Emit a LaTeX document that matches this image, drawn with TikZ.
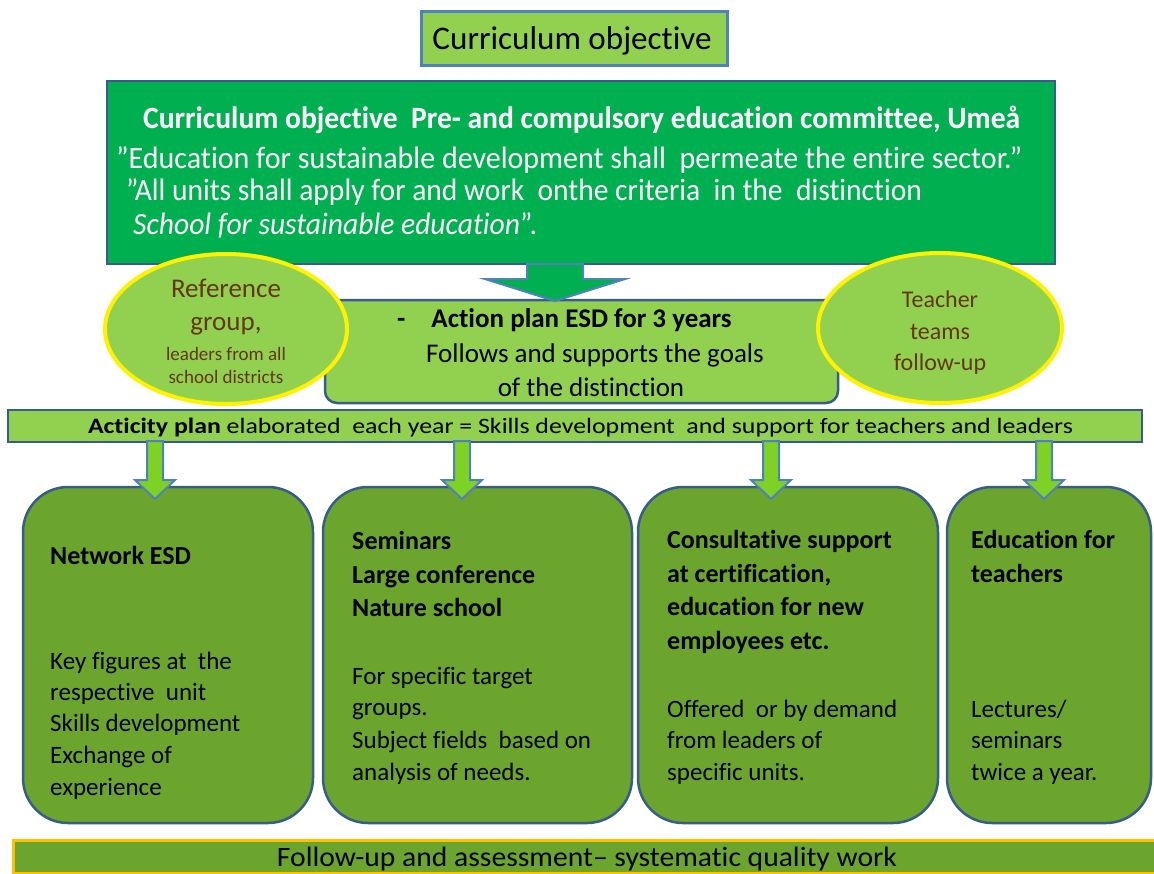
\documentclass[tikz,border=0pt]{standalone}
\usepackage{fontspec}
\setmainfont{Carlito}[Ligatures=NoCommon]
\usepackage{graphicx}
\usetikzlibrary{shapes.geometric}
\definecolor{lgreen}{HTML}{92D050}
\definecolor{dgreen}{HTML}{00B050}
\definecolor{olive}{RGB}{107,165,45}
\definecolor{bord}{HTML}{385D8A}
\definecolor{tbord}{HTML}{4F81BD}
\definecolor{lime}{RGB}{125,210,35}
\definecolor{brownt}{RGB}{100,55,20}
\definecolor{gold}{HTML}{FFC000}
\newcommand\fs[1]{\fontsize{#1}{#1}\selectfont}
\newcommand\fitto[2]{\resizebox{#1}{\height}{#2}}
\begin{document}
\begin{tikzpicture}[x=1pt,y=-1pt,
  txt/.style={inner sep=0pt, anchor=base west},
  ctxt/.style={inner sep=0pt, anchor=base},
  panel/.style={draw=bord, line width=2.5pt},
  bluebox/.style={panel, fill=olive, rounded corners=45pt, minimum height=336pt},
  oval/.style={ellipse, draw=yellow, fill=lgreen, line width=4pt, inner sep=0pt},
  bigarr/.style={draw=tbord, fill=dgreen, line width=2pt, line join=miter},
  smallarr/.style={draw=tbord, fill=lime, line width=2pt, line join=miter}]
\useasboundingbox (0,0) rectangle (1154,873);
\fill[white] (0,0) rectangle (1154,873);

% title
\node[draw=tbord, fill=lgreen, line width=3pt, minimum width=306pt, minimum height=54pt, inner sep=0pt] (title) at (574,38) {};
\node[ctxt] (titlet) at (572,49) {\fs{33}\fitto{279pt}{Curriculum objective}};

% main box
\node[panel, fill=dgreen, minimum width=948pt, minimum height=183pt] (main) at (581,172.5) {};
\node[txt, text=white] (m1) at (143,128) {\fs{31}\fitto{877pt}{\textbf{Curriculum objective\ \ Pre- and compulsory education committee, Umeå}}};
\node[txt, text=white] (m2) at (116,168) {\fs{31}\fitto{906pt}{”Education for sustainable development shall\ \ permeate the entire sector.”}};
\node[txt, text=white] (m3) at (126,200) {\fs{31}\fitto{796pt}{”All units shall apply for and work\ \ onthe criteria\ \ in the\ \ distinction}};
\node[txt, text=white] (m4) at (133,234) {\fs{31}\fitto{404pt}{\textit{School for sustainable education}”.}};

% action plan box
\node[panel, fill=lgreen, rounded corners=12pt, minimum width=513pt, minimum height=103pt] (plan) at (581.5,351.5) {};
\node[txt] (p1) at (397,327) {\fs{27}\textbf{-\hspace{26pt}Action plan ESD for 3 years}};
\node[ctxt] (p2) at (595,362) {\fs{27}Follows and supports the goals};
\node[ctxt] (p3) at (591,396) {\fs{27}of the distinction};

% big arrow main -> plan
\draw[bigarr] (527,264) -- (527,279) -- (485,279) -- (555,301) -- (625,279) -- (583,279) -- (583,264) -- cycle;

% ellipses
\node[oval, minimum width=242pt, minimum height=150pt] (refg) at (226,329) {};
\node[ctxt, text=brownt] (r1) at (226,297) {\fs{27}Reference};
\node[ctxt, text=brownt] (r2) at (226,330) {\fs{27}group,};
\node[ctxt, text=brownt] (r3) at (226,360) {\fs{19}leaders from all};
\node[ctxt, text=brownt] (r4) at (226,383) {\fs{19}school districts};

\node[oval, minimum width=244pt, minimum height=150pt] (teach) at (940,328) {};
\node[ctxt, text=brownt] (t1) at (940,307) {\fs{24}Teacher};
\node[ctxt, text=brownt] (t2) at (940,339) {\fs{24}teams};
\node[ctxt, text=brownt] (t3) at (940,370) {\fs{24}follow-up};

% bottom boxes
\node[bluebox, minimum width=290pt] (b1) at (168,655) {};
\node[bluebox, minimum width=309pt] (b2) at (477.5,655) {};
\node[bluebox, minimum width=300pt] (b3) at (788,655) {};
\node[bluebox, minimum width=204pt] (b4) at (1049,655) {};

% activity bar
\node[panel, fill=lgreen, minimum width=1134pt, minimum height=32pt] (act) at (575,426) {};
\node[ctxt] (actt) at (580.5,433) {\fs{22}\fitto{985pt}{\textbf{Acticity plan} elaborated\ \ each year = Skills development\ \ and support for teachers and leaders}};

% small arrows act -> boxes
\foreach \x in {155,462,771,1044}{
  \draw[smallarr] ({\x-8},441) -- ({\x-8},480) -- ({\x-20},480) -- (\x,499) -- ({\x+20},480) -- ({\x+8},480) -- ({\x+8},441) -- cycle;
}

% box 1 text
\node[txt] (b1h) at (50,564) {\fs{26}\textbf{Network ESD}};
\node[txt] (b1a) at (50,669) {\fs{25}Key figures at\ \ the};
\node[txt] (b1b) at (50,700) {\fs{25}respective\ \ unit};
\node[txt] (b1c) at (50,731) {\fs{25}Skills development};
\node[txt] (b1d) at (50,763) {\fs{25}Exchange of};
\node[txt] (b1e) at (50,795) {\fs{25}experience};

% box 2 text
\node[txt] (b2h1) at (352,549) {\fs{26}\textbf{Seminars}};
\node[txt] (b2h2) at (352,583) {\fs{26}\textbf{Large conference}};
\node[txt] (b2h3) at (352,616) {\fs{26}\textbf{Nature school}};
\node[txt] (b2a) at (352,684) {\fs{25}For specific target};
\node[txt] (b2b) at (352,715) {\fs{25}groups.};
\node[txt] (b2c) at (352,748) {\fs{25}Subject fields\ \ based on};
\node[txt] (b2d) at (352,780) {\fs{25}analysis of needs.};

% box 3 text
\node[txt] (b3h1) at (667,548) {\fs{26}\textbf{Consultative support}};
\node[txt] (b3h2) at (667,582) {\fs{26}\textbf{at certification,}};
\node[txt] (b3h3) at (667,615) {\fs{26}\textbf{education for new}};
\node[txt] (b3h4) at (667,649) {\fs{26}\textbf{employees etc.}};
\node[txt] (b3a) at (667,717) {\fs{25}Offered\ \ or by demand};
\node[txt] (b3b) at (667,748) {\fs{25}from leaders of};
\node[txt] (b3c) at (667,780) {\fs{25}specific units.};

% box 4 text
\node[txt] (b4h1) at (971,548) {\fs{26}\textbf{Education for}};
\node[txt] (b4h2) at (971,582) {\fs{26}\textbf{teachers}};
\node[txt] (b4a) at (971,717) {\fs{25}Lectures/};
\node[txt] (b4b) at (971,748) {\fs{25}seminars};
\node[txt] (b4c) at (971,780) {\fs{25}twice a year.};

% bottom bar
\node[draw=gold, fill=olive, line width=3pt, minimum width=1160pt, minimum height=33pt, anchor=north west] (fb) at (12,839) {};
\node[ctxt] (fbt) at (587,866) {\fs{28}\fitto{620pt}{Follow-up and assessment– systematic quality work}};
\end{tikzpicture}
\end{document}
